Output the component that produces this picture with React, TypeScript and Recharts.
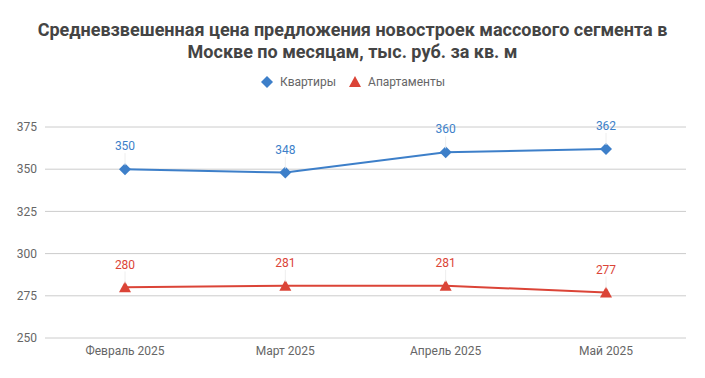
import { LineChart, Line, XAxis, YAxis, CartesianGrid, LabelList } from 'recharts';

const months = ['Февраль 2025', 'Март 2025', 'Апрель 2025', 'Май 2025'];
const flats = [350, 348, 360, 362];
const apartments = [280, 281, 281, 277];
const yTicks = [250, 275, 300, 325, 350, 375];

const BLUE = '#3d7fc9';
const RED = '#db4437';

const data = months.map((m, i) => ({ month: m, flats: flats[i], apartments: apartments[i] }));

function Diamond(props: any) {
  const { cx, cy } = props;
  const r = 6;
  return <path d={`M${cx},${cy - r}L${cx + r},${cy}L${cx},${cy + r}L${cx - r},${cy}Z`} fill={BLUE} />;
}

function Triangle(props: any) {
  const { cx, cy } = props;
  return <path d={`M${cx},${cy - 6}L${cx + 6},${cy + 5}L${cx - 6},${cy + 5}Z`} fill={RED} />;
}

function makeLabel(color: string) {
  return (props: any) => {
    const { x, y, value } = props;
    return (
      <g>
        <line x1={x} y1={y - 16} x2={x} y2={y - 4} stroke="#eeeeee" strokeWidth={1} />
        <text x={x} y={y - 22} textAnchor="middle" dominantBaseline="middle" fill={color} fontSize={12}>
          {value}
        </text>
      </g>
    );
  };
}

export default function App() {
  return (
    <div
      style={{
        position: 'fixed',
        left: 0,
        top: 0,
        width: 705,
        height: 378,
        background: '#fff',
        fontFamily: 'Roboto, sans-serif',
      }}
    >
      <div
        style={{
          position: 'absolute',
          top: 19,
          left: 0,
          width: 705,
          textAlign: 'center',
          fontSize: 18,
          fontWeight: 'bold',
          lineHeight: '22px',
          color: '#444',
        }}
      >
        Средневзвешенная цена предложения новостроек массового сегмента в
        <br />
        Москве по месяцам, тыс. руб. за кв. м
      </div>

      {/* Legend */}
      <div
        style={{
          position: 'absolute',
          top: 75,
          left: 0,
          width: 705,
          display: 'flex',
          justifyContent: 'center',
          alignItems: 'center',
          fontSize: 12,
          color: '#666',
        }}
      >
        <svg width={14} height={14} style={{ marginRight: 6 }}>
          <path d="M7,1L13,7L7,13L1,7Z" fill={BLUE} />
        </svg>
        <span style={{ marginRight: 12 }}>Квартиры</span>
        <svg width={14} height={14} style={{ marginRight: 6 }}>
          <path d="M7,1L13,12L1,12Z" fill={RED} />
        </svg>
        <span>Апартаменты</span>
      </div>

      <div style={{ position: 'absolute', top: 100, left: 0 }}>
        <LineChart width={705} height={278} data={data} margin={{ top: 27, right: 19, bottom: 10, left: 0 }}>
          <CartesianGrid vertical={false} stroke="#cccccc" />
          <XAxis
            dataKey="month"
            axisLine={false}
            tickLine={false}
            padding={{ left: 80, right: 80 }}
            tick={{ fill: '#666', fontSize: 12 }}
            height={30}
          />
          <YAxis
            domain={[250, 375]}
            ticks={yTicks}
            axisLine={false}
            tickLine={false}
            width={45}
            tick={{ fill: '#666', fontSize: 12 }}
          />
          <Line
            type="linear"
            dataKey="flats"
            stroke={BLUE}
            strokeWidth={2}
            dot={<Diamond />}
            activeDot={false}
            isAnimationActive={false}
          >
            <LabelList dataKey="flats" content={makeLabel(BLUE)} />
          </Line>
          <Line
            type="linear"
            dataKey="apartments"
            stroke={RED}
            strokeWidth={2}
            dot={<Triangle />}
            activeDot={false}
            isAnimationActive={false}
          >
            <LabelList dataKey="apartments" content={makeLabel(RED)} />
          </Line>
        </LineChart>
      </div>
    </div>
  );
}
